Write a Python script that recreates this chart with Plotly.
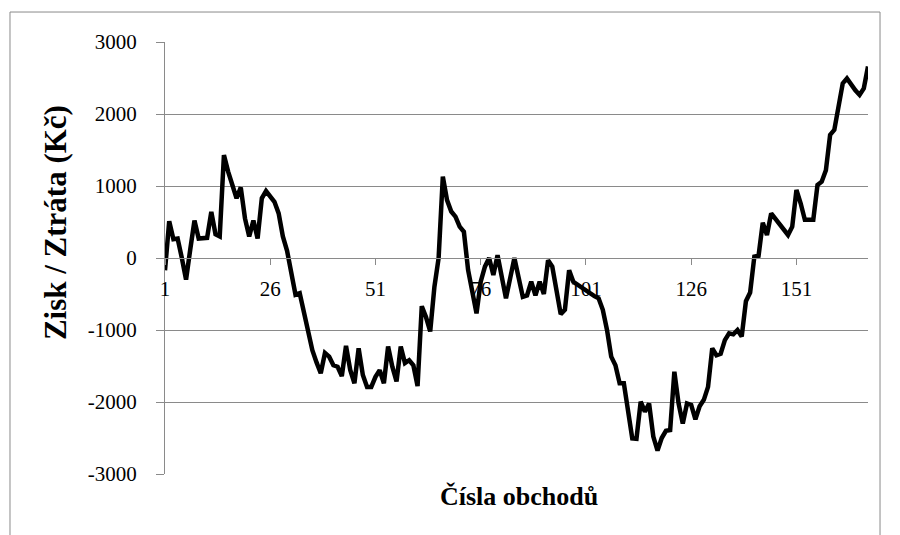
import plotly.graph_objects as go

# cisla obchodu 1..168 a kumulativni zisk / ztrata (Kc)
obchody = list(range(1, 169))
zisk = [
    -170, 510, 260, 270, 0, -300, 120, 520, 270, 270,
    280, 640, 330, 300, 1430, 1200, 1000, 830, 980, 550,
    300, 520, 270, 830, 930, 860, 780, 620, 300, 100,
    -250, -510, -490, -770, -1040, -1280, -1450, -1600, -1320, -1370,
    -1490, -1510, -1640, -1220, -1555, -1740, -1255, -1625, -1790, -1790,
    -1650, -1560, -1740, -1230, -1510, -1715, -1230, -1460, -1420, -1490,
    -1780, -670, -820, -1020, -400, 0, 1130, 805, 645, 575,
    435, 365, -165, -450, -770, -330, -120, 0, -235, 40,
    -300, -560, -280, 0, -270, -540, -520, -330, -520, -330,
    -500, -30, -120, -450, -780, -720, -170, -330, -370, -420,
    -460, -490, -530, -560, -720, -1000, -1370, -1490, -1740, -1740,
    -2100, -2505, -2510, -1995, -2135, -2020, -2480, -2675, -2500, -2400,
    -2390, -1580, -2020, -2300, -2020, -2040, -2240, -2060, -1970, -1790,
    -1255, -1350, -1330, -1140, -1045, -1060, -1000, -1090, -600, -480,
    20, 30, 490, 320, 620, 540, 460, 390, 320, 435,
    945, 760, 530, 530, 530, 1015, 1060, 1220, 1710, 1780,
    2150, 2425, 2495, 2400, 2330, 2265, 2355, 2660,
]

x_ticks = [1, 26, 51, 76, 101, 126, 151]
y_ticks = [3000, 2000, 1000, 0, -1000, -2000, -3000]
y_tick_labels = ["3000", "2000", "1000", "0", "-1000", "-2000", "-3000"]

FONT = "Liberation Serif"
GRID = "#8a8a8a"

fig = go.Figure()
fig.add_trace(
    go.Scatter(
        x=obchody,
        y=zisk,
        mode="lines",
        line=dict(color="black", width=4.5),
        showlegend=False,
    )
)

# stranka ma 8px okraj, proto 892x527
fig.update_layout(
    width=892,
    height=527,
    paper_bgcolor="white",
    plot_bgcolor="white",
    margin=dict(l=157, r=32, t=34, b=61),
    font=dict(family=FONT, color="black", size=21),
    xaxis=dict(
        range=[1, 168],
        anchor="free",
        position=0.5,
        tickvals=x_ticks,
        ticks="outside",
        ticklen=6,
        tickcolor=GRID,
        showline=True,
        linecolor=GRID,
        linewidth=1,
        showgrid=False,
        zeroline=False,
        tickfont=dict(family=FONT, size=21, color="black"),
        ticklabelstandoff=6,
    ),
    yaxis=dict(
        range=[-3000, 3000],
        tickvals=y_ticks,
        ticktext=y_tick_labels,
        ticks="outside",
        ticklen=8,
        tickcolor=GRID,
        showline=True,
        linecolor=GRID,
        linewidth=1,
        showgrid=True,
        gridcolor=GRID,
        gridwidth=1,
        zeroline=False,
        tickfont=dict(family=FONT, size=21, color="black"),
        ticklabelstandoff=15,
    ),
    shapes=[
        dict(
            type="rect", xref="paper", yref="paper",
            x0=-0.2205, x1=1.0171, y0=-0.16, y1=1.0694,
            line=dict(color="#8a8a8a", width=1),
        )
    ],
    annotations=[
        dict(
            text="<b>Čísla obchodů</b>", xref="paper", yref="paper",
            x=0.503, y=-0.053, xanchor="center", yanchor="middle",
            showarrow=False, font=dict(family=FONT, size=26, color="black"),
        ),
        dict(
            text="<b>Zisk / Ztráta (Kč)</b>", xref="paper", yref="paper",
            x=-0.1565, y=0.583, xanchor="center", yanchor="middle",
            textangle=-90, showarrow=False,
            font=dict(family=FONT, size=31, color="black"),
        ),
    ],
)

fig.write_html("out.html")
